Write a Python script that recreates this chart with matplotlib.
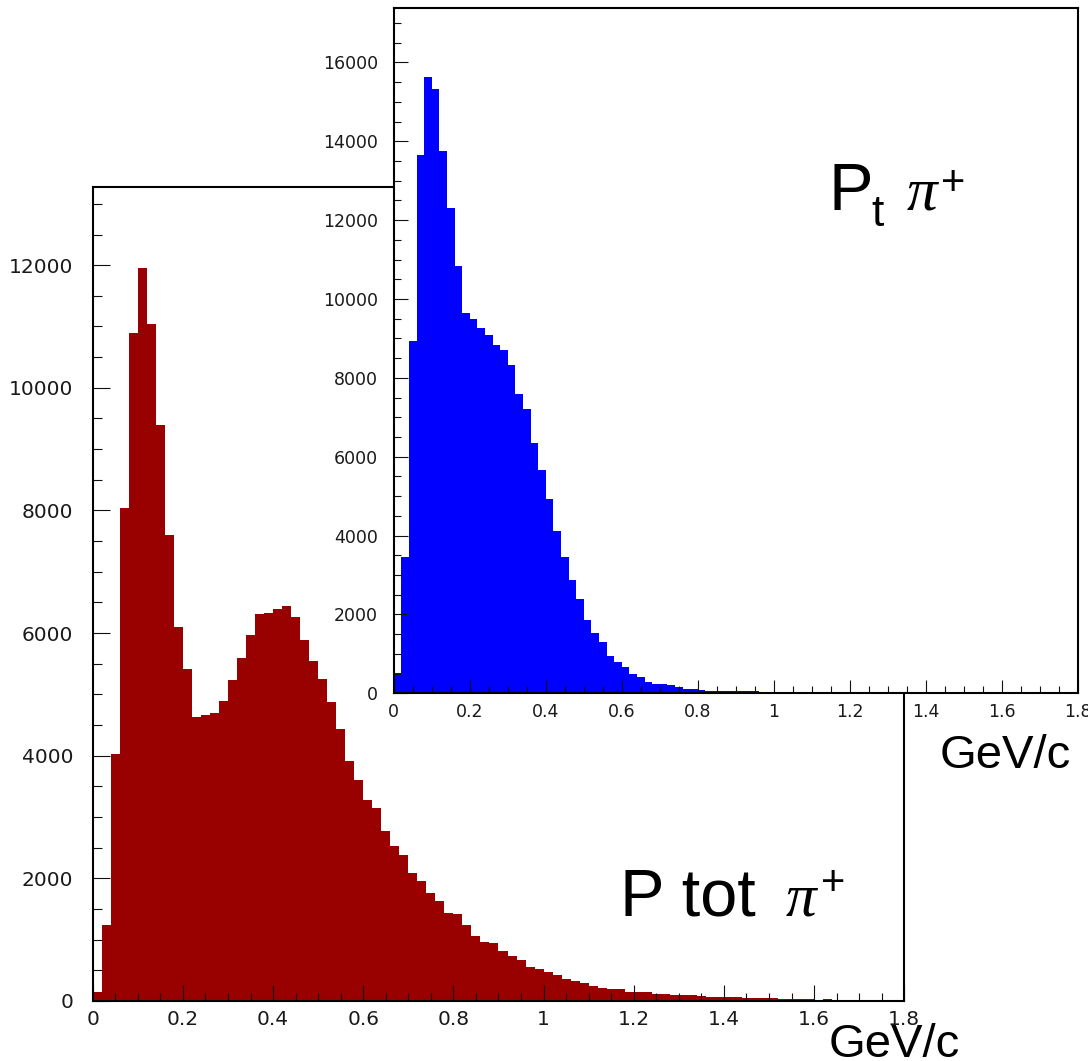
import matplotlib
matplotlib.use("Agg")
import matplotlib.pyplot as plt
from matplotlib.ticker import FixedLocator, MultipleLocator
import numpy as np

# ---- data: 90 bins of 0.02 GeV/c from 0 to 1.8 ----
bin_width = 0.02
n_bins = 90

ptot_counts = [140, 1235, 4030, 8035, 10890, 11960, 11040, 9395, 7595, 6105,
               5410, 4637, 4660, 4703, 4898, 5236, 5600, 5975, 6307, 6324,
               6388, 6437, 6258, 5883, 5540, 5252, 4877, 4436, 3914, 3605,
               3278, 3143, 2775, 2530, 2380, 2093, 1957, 1767, 1636, 1430,
               1414, 1240, 1060, 970, 950, 820, 734, 665, 560, 530,
               470, 425, 359, 331, 299, 250, 207, 196, 190, 152,
               141, 141, 114, 114, 98, 95, 95, 76, 73, 60,
               60, 60, 55, 44, 44, 42, 40, 40, 38, 36,
               20, 40, 10, 0, 0, 0, 0, 0, 0, 0]

pt_counts = [507, 3465, 8923, 13664, 15641, 15337, 13748, 12310, 10832, 9633,
             9489, 9268, 9075, 8822, 8703, 8322, 7587, 7199, 6353, 5661,
             4926, 4122, 3463, 2872, 2383, 1858, 1536, 1308, 946, 801,
             659, 489, 421, 279, 236, 228, 203, 160, 110, 101,
             84, 60, 58, 58, 56, 55, 55, 52, 28, 26,
             25, 25, 24, 22, 20, 20, 18, 18, 16, 14,
             12, 6, 4, 3, 2, 2, 1, 1, 1, 0,
             0, 0, 0, 0, 0, 0, 0, 0, 0, 0,
             0, 0, 0, 0, 0, 0, 0, 0, 0, 0]

x_tick_labels = ["0", "0.2", "0.4", "0.6", "0.8", "1", "1.2", "1.4", "1.6", "1.8"]
ptot_y_labels = ["0", "2000", "4000", "6000", "8000", "10000", "12000"]
pt_y_labels = ["0", "2000", "4000", "6000", "8000", "10000", "12000", "14000", "16000"]
x_unit = "GeV/c"

edges = np.arange(n_bins + 1) * bin_width

# ---- figure ----
W, H, DPI = 1088, 1061, 100
fig = plt.figure(figsize=(W / DPI, H / DPI), dpi=DPI)
fig.patch.set_facecolor("white")


def box(left, top, right, bottom):
    return [left / W, 1 - bottom / H, (right - left) / W, (bottom - top) / H]


def style(ax, ytop, ylabels, lab_size, ymaj, ymin, xmaj, xmin, ypad, xpad):
    ax.set_xlim(0, n_bins * bin_width)
    ax.set_ylim(0, ytop)
    ax.xaxis.set_major_locator(FixedLocator([float(v) for v in x_tick_labels]))
    ax.set_xticklabels(x_tick_labels)
    ax.yaxis.set_major_locator(FixedLocator([float(v) for v in ylabels]))
    ax.set_yticklabels(ylabels)
    ax.xaxis.set_minor_locator(MultipleLocator(0.05))
    ax.yaxis.set_minor_locator(MultipleLocator(500))
    ax.tick_params(which="both", direction="in", top=False, right=False,
                   color="#111111", width=0.8, labelcolor="#1a1a1a")
    ax.tick_params(axis="y", which="major", length=ymaj, pad=ypad, labelsize=lab_size)
    ax.tick_params(axis="y", which="minor", length=ymin)
    ax.tick_params(axis="x", which="major", length=xmaj, pad=xpad, labelsize=lab_size)
    ax.tick_params(axis="x", which="minor", length=xmin)
    for s in ax.spines.values():
        s.set_linewidth(1.5)
        s.set_color("black")


# total momentum (back panel)
ax_tot = fig.add_axes(box(92.7, 187.3, 904.3, 1001))
ax_tot.set_facecolor("white")
ax_tot.stairs(ptot_counts, edges, fill=True, color="#990000", linewidth=0)
style(ax_tot, 13270, ptot_y_labels, 14.5, 12.2, 6.5, 11.5, 5.8, 14.0, 6.8)

# transverse momentum (front panel)
ax_pt = fig.add_axes(box(393.8, 8, 1077.7, 693.3))
ax_pt.set_facecolor("white")
ax_pt.stairs(pt_counts, edges, fill=True, color="#0000ff", linewidth=0)
style(ax_pt, 17380, pt_y_labels, 12.5, 10.0, 4.8, 9.4, 4.8, 11.5, 6.8)


# ---- annotations (pixel positions, baseline aligned) ----
def put(x, y, s, size, **kw):
    kw.setdefault("family", "Liberation Sans")
    fig.text(x / W, 1 - y / H, s, fontsize=size, ha="left", va="baseline",
             color="black", **kw)


# P_t pi+
put(828, 210, "P", 48)
put(871, 226, "t", 32)
put(907, 210, "\u03c0", 44, family="Liberation Serif", style="italic")
put(941, 195, "+", 30)

# P tot pi+
put(620, 915, "P tot", 48)
put(786, 915, "\u03c0", 44, family="Liberation Serif", style="italic")
put(821, 895, "+", 30)

# axis units
put(940, 768, x_unit, 34)
put(829, 1057, x_unit, 34)

fig.savefig("out.png", dpi=DPI)
